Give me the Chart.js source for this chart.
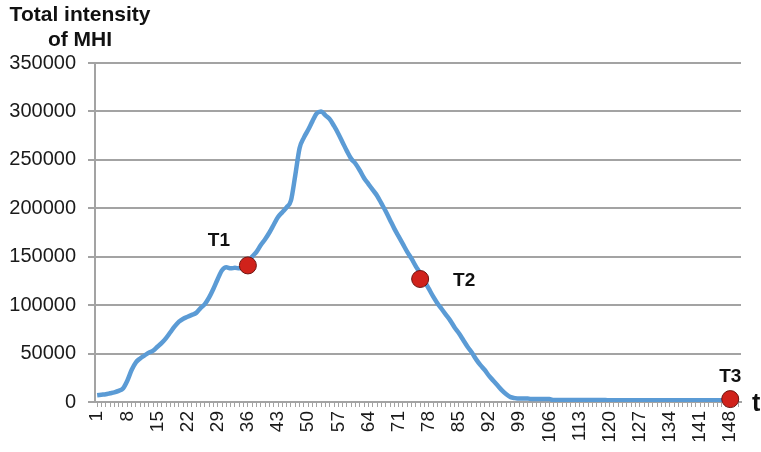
<!DOCTYPE html>
<html>
<head>
<meta charset="utf-8">
<script src="https://cdn.jsdelivr.net/npm/chart.js@4/dist/chart.umd.min.js"></script>
<style>
    html, body { margin: 0; padding: 0; background: #fff; }
    #wrap { position: relative; width: 761px; height: 452px; }
</style>
</head>
<body>
<div id="wrap"><canvas id="chart" width="761" height="452"></canvas></div>
<script>
// categories: time steps 1..150
const days = Array.from({ length: 150 }, (_, i) => i + 1);
// labels printed on the x axis
const shownTicks = [1, 8, 15, 22, 29, 36, 43, 50, 57, 64, 71, 78, 85, 92, 99, 106, 113, 120, 127, 134, 141, 148];

// total intensity of MHI (days 1..99)
const intensityRise = [
    7000, 7500, 8000, 9000, 10000, 11500, 14000, 22000, 33000, 41000,
    45000, 48000, 51000, 53000, 57000, 61000, 66000, 72000, 78000, 83000,
    86000, 88000, 90000, 92000, 97000, 101000, 108000, 117000, 127000, 136000,
    139000, 138000, 138500, 138000, 139000, 143000, 150000, 155000, 162000, 168000,
    175000, 183000, 191000, 196000, 201000, 208000, 234000, 262000, 273000, 281000,
    290000, 298000, 300000, 296000, 292000, 285000, 277000, 268000, 259000, 251000,
    246000, 239000, 231000, 225000, 219000, 213000, 205000, 197000, 188000, 179000,
    171000, 163000, 155000, 148000, 140000, 133000, 125000, 117000, 109000, 102000,
    96000, 90000, 84000, 77000, 71000, 64000, 57000, 51000, 44000, 38000,
    33000, 27000, 22000, 17000, 12000, 8000, 5000, 4000, 3500
];
// days 100..150, tail near zero
const intensityTail = [
    3500, 3500, 3000, 3000, 3000, 3000, 3000, 2000, 2000, 2000,
    2000, 2000, 2000, 2000, 2000, 2000, 2000, 2000, 2000, 2000,
    1800, 1800, 1800, 1800, 1800, 1800, 1800, 1800, 1800, 1800,
    1800, 1800, 1800, 1800, 1800, 1800, 1800, 1800, 1800, 1800,
    1800, 1800, 1800, 1800, 1800, 1800, 1800, 1800, 1800, 1800,
    1800
];
const intensity = intensityRise.concat(intensityTail);

// highlighted time points
const markerDays = [36, 76, 148];
const markerValues = [141000, 127000, 3000];
const markerLabels = ['T1', 'T2', 'T3'];

const FONT = "'Liberation Sans', Arial, sans-serif";
const GRID = '#a3a3a3';

const markerData = days.map(d => {
    const k = markerDays.indexOf(d);
    return k >= 0 ? markerValues[k] : null;
});

// offsets of the T labels from their markers
const labelOffsets = [[-29, -25], [44, 2], [0, -22]];

const annotations = {
    id: 'annotations',
    afterDatasetsDraw(chart) {
        const ctx = chart.ctx;
        ctx.save();
        ctx.fillStyle = '#111';
        ctx.textAlign = 'center';
        ctx.textBaseline = 'middle';
        ctx.font = `bold 21px ${FONT}`;
        ctx.fillText('Total intensity', 80, 15);
        ctx.fillText('of MHI', 80, 40);

        const meta = chart.getDatasetMeta(1);
        ctx.font = `bold 19px ${FONT}`;
        markerDays.forEach((d, k) => {
            const pt = meta.data[days.indexOf(d)];
            ctx.fillText(markerLabels[k], pt.x + labelOffsets[k][0], pt.y + labelOffsets[k][1]);
        });

        ctx.textAlign = 'left';
        ctx.font = `bold 25px ${FONT}`;
        ctx.fillText('t', 752, 404);
        ctx.restore();
    }
};

new Chart(document.getElementById('chart'), {
    type: 'line',
    data: {
        labels: days,
        datasets: [
            {
                data: intensity,
                borderColor: '#5b9bd5',
                borderWidth: 4.5,
                pointRadius: 0,
                cubicInterpolationMode: 'monotone',
                fill: false,
                order: 1,
            },
            {
                data: markerData,
                showLine: false,
                pointRadius: 8.5,
                pointBackgroundColor: '#d0221b',
                pointBorderColor: '#6e1410',
                pointBorderWidth: 1,
                clip: false,
                order: 0,
            }
        ]
    },
    options: {
        responsive: false,
        animation: false,
        events: [],
        layout: { padding: { top: 63, right: 20, left: 0, bottom: 0 } },
        plugins: {
            legend: { display: false },
            tooltip: { enabled: false }
        },
        scales: {
            x: {
                offset: true,
                grid: {
                    display: true,
                    drawOnChartArea: false,
                    drawTicks: true,
                    tickLength: 5,
                    color: GRID,
                    lineWidth: 1,
                    offset: false,
                },
                border: { color: GRID, width: 2 },
                ticks: {
                    autoSkip: false,
                    minRotation: 90,
                    maxRotation: 90,
                    padding: 4,
                    color: '#1a1a1a',
                    font: { family: FONT, size: 19 },
                    callback: (val, idx) => shownTicks.includes(days[idx]) ? String(days[idx]) : '',
                },
                afterFit: (scale) => {
                    scale.height = 50;
                    scale.paddingLeft = 0;
                    scale.paddingRight = 0;
                },
            },
            y: {
                min: 0,
                max: 350000,
                grid: {
                    color: GRID,
                    lineWidth: 2,
                    tickLength: 7,
                },
                border: { color: GRID, width: 2 },
                ticks: {
                    stepSize: 50000,
                    padding: 12,
                    color: '#1a1a1a',
                    font: { family: FONT, size: 20 },
                    callback: (v) => String(v),
                },
                afterFit: (scale) => { scale.width = 95; },
            }
        }
    },
    plugins: [annotations]
});
</script>
</body>
</html>
